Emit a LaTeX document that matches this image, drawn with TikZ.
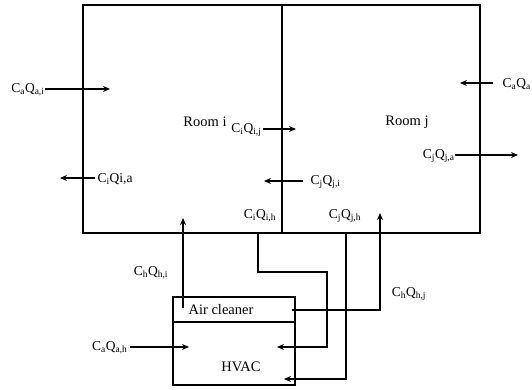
\documentclass[tikz,border=0pt]{standalone}
\usepackage{fontspec}
\setmainfont{Liberation Serif}
\usetikzlibrary{arrows.meta}
\newcommand\myCQ[2]{C\textsubscript{#1}Q\textsubscript{#2}}
\begin{document}
\begin{tikzpicture}[x=1pt,y=-1pt, line width=1.1pt,
  >={Stealth[length=7pt,width=6pt]},
  box/.style={draw, rectangle, inner sep=0pt, outer sep=0pt},
  lbl/.style={font=\fontsize{13.5}{15}\selectfont, inner sep=0pt},
  big/.style={font=\fontsize{14.5}{16}\selectfont, inner sep=0pt},
  flow/.style={->}]
\useasboundingbox (0,0) rectangle (532,389);
% rooms
\node[box, minimum width=199pt, minimum height=228pt] (roomi) at (182.5,119) {};
\node[box, minimum width=198pt, minimum height=228pt] (roomj) at (381,119) {};
\node[big] (ti) at (205,122) {Room i};
\node[big] (tj) at (407,122) {Room j};
% HVAC
\node[box, minimum width=122pt, minimum height=88pt] (hvac) at (234,341) {};
\coordinate (dl) at (173,322);
\coordinate (dr) at (295,322);
\draw (dl) -- (dr);
\node[big] (ac) at (221,310) {Air cleaner};
\node[big] (hv) at (241,367) {HVAC};
% labels
\node[lbl, anchor=east] (lai) at (45,90) {\myCQ{a}{a,i}};
\node[lbl, anchor=west] (lia) at (97,179) {C\textsubscript{i}Qi,a};
\node[lbl, anchor=east] (lij) at (262,130) {\myCQ{i}{i,j}};
\node[lbl, anchor=west] (lji) at (310,182) {\myCQ{j}{j,i}};
\node[lbl, anchor=west] (la) at (502,84) {\myCQ{a}{a}};
\node[lbl, anchor=east] (lja) at (455,156) {\myCQ{j}{j,a}};
\node[lbl] (lih) at (260,216) {\myCQ{i}{i,h}};
\node[lbl] (ljh) at (345,216) {\myCQ{j}{j,h}};
\node[lbl] (lhi) at (151,273) {\myCQ{h}{h,i}};
\node[lbl] (lhj) at (409,294) {\myCQ{h}{h,j}};
\node[lbl, anchor=east] (lah) at (128,348) {\myCQ{a}{a,h}};
% coordinates
\coordinate (ai1) at (45,89);   \coordinate (ai2) at (110,89);
\coordinate (ia1) at (95,178);  \coordinate (ia2) at (60,178);
\coordinate (ij1) at (263,129); \coordinate (ij2) at (296,129);
\coordinate (ji1) at (303,181); \coordinate (ji2) at (264,181);
\coordinate (a1) at (493,83);   \coordinate (a2) at (460,83);
\coordinate (ja1) at (455,155); \coordinate (ja2) at (518,155);
\coordinate (ah1) at (130,347); \coordinate (ah2) at (189,347);
\coordinate (hi1) at (183,308); \coordinate (hi2) at (183,218);
\coordinate (ih1) at (258,233); \coordinate (ih2) at (258,272);
\coordinate (ih3) at (327,272); \coordinate (ih4) at (327,347);
\coordinate (ih5) at (277,347);
\coordinate (jh1) at (346,233); \coordinate (jh2) at (346,379);
\coordinate (jh3) at (284,379);
\coordinate (hj1) at (292,310); \coordinate (hj2) at (380,310);
\coordinate (hj3) at (380,213);
% flows
\draw[flow] (ai1) -- (ai2);
\draw[flow] (ia1) -- (ia2);
\draw[flow] (ij1) -- (ij2);
\draw[flow] (ji1) -- (ji2);
\draw[flow] (a1) -- (a2);
\draw[flow] (ja1) -- (ja2);
\draw[flow] (ah1) -- (ah2);
\draw[flow] (hi1) -- (hi2);
\draw[flow] (ih1) -- (ih2) -- (ih3) -- (ih4) -- (ih5);
\draw[flow] (jh1) -- (jh2) -- (jh3);
\draw[flow] (hj1) -- (hj2) -- (hj3);
\end{tikzpicture}
\end{document}
